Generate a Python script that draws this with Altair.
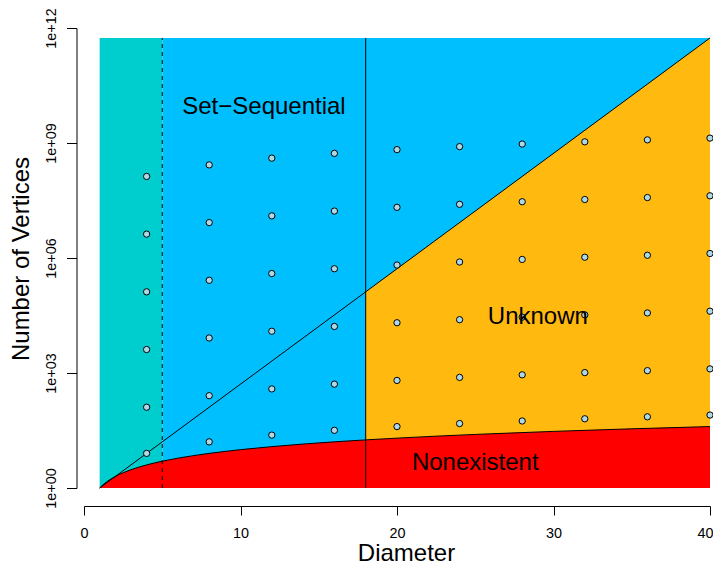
import altair as alt
import pandas as pd

# ---------------- data ----------------
x_ticks = [0, 10, 20, 30, 40]
y_ticks = [1, 1e3, 1e6, 1e9, 1e12]
y_tick_labels = ["1e+00", "1e+03", "1e+06", "1e+09", "1e+12"]

top_n = 549755813888  # upper edge of the coloured regions

# coloured regions: diameter ranges
teal_d = [1, 5]
blue_d = [5, 40]
orange_d = [18, 40]
orange_n = [131072, 549755813888]       # diagonal boundary over the orange part

# diagonal boundary line
diag_d = [1, 40]
diag_n = [1, 549755813888]

# lower (nonexistent) boundary curve
curve_d = [1, 1.25, 1.5, 2, 2.5, 3, 4, 5, 6, 8, 10, 12, 14, 16, 18, 20, 25, 30, 35, 40]
curve_n = [1, 1.25, 1.5, 2, 2.5, 3, 4, 5, 6, 8, 10, 12, 14, 16, 18, 20, 25, 30, 35, 40]

dashed_d = [5]
solid_d = [18]

# sample points
pt_d = [4, 8, 12, 16, 20, 24, 28, 32, 36, 40]
row1 = [8, 16, 24, 32, 40, 48, 56, 64, 72, 80]
row2 = [128, 256, 384, 512, 640, 768, 896, 1024, 1152, 1280]
row3 = [4096, 8192, 12288, 16384, 20480, 24576, 28672, 32768, 36864, 40960]
row4 = [131072, 262144, 393216, 524288, 655360, 786432, 917504, 1048576, 1179648, 1310720]
row5 = [4194304, 8388608, 12582912, 16777216, 20971520, 25165824, 29360128, 33554432, 37748736, 41943040]
row6 = [134217728, 268435456, 402653184, 536870912, 671088640, 805306368, 939524096,
        1073741824, 1207959552, 1342177280]

region_text = ["Set\u2212Sequential", "Unknown", "Nonexistent"]
region_text_d = [11.5, 29, 25]
region_text_n = [1e10, 3.2e4, 5]

# ---------------- styling ----------------
FONT = "Liberation Sans"
TEAL = "#00CDCD"
BLUE = "#00BFFF"
ORANGE = "#FFB90F"
RED = "#FF0000"
PT_FILL = "#ADD8E6"

label_expr = ""
for v, lab in zip(y_ticks, y_tick_labels):
    label_expr += f"abs(datum.value - {v}) < {v}*0.01 ? '{lab}' : "
label_expr += "''"

x_axis = alt.Axis(
    values=x_ticks, title="Diameter", grid=False, offset=18,
    domainColor="black", domainWidth=1, tickColor="black", tickWidth=1, tickSize=9,
    labelFont=FONT, labelFontSize=14.4, labelColor="black", labelFlush=False,
    labelOverlap=False, labelBaseline="alphabetic", labelPadding=22,
    labelOffset={"condition": {"test": f"datum.value >= {x_ticks[-1]}", "value": -5}, "value": 0},
    titleFont=FONT, titleFontSize=24, titleFontWeight="normal", titleColor="black",
    titleX=322, titleY=54, titleBaseline="alphabetic", titleAlign="center", titleAngle=0,
)
y_axis = alt.Axis(
    values=y_ticks, labelExpr=label_expr, title="Number of Vertices", grid=False, offset=7.5,
    domainColor="black", domainWidth=1, tickColor="black", tickWidth=1, tickSize=10,
    labelFont=FONT, labelFontSize=14.4, labelColor="black", labelAngle=270,
    labelAlign="center", labelBaseline="alphabetic", labelPadding=11.5, labelOverlap=False,
    titleFont=FONT, titleFontSize=24, titleFontWeight="normal", titleColor="black",
    titleAngle=270, titleBaseline="alphabetic", titleAlign="center",
    titleX=-48.5, titleY=230.5,
)

x_scale = alt.Scale(domain=[0, 40], nice=False, zero=False)
y_scale = alt.Scale(type="log", domain=[1, 1e12], nice=False)


def X(field="x"):
    return alt.X(f"{field}:Q", scale=x_scale, axis=x_axis)


def Y(field="y"):
    return alt.Y(f"{field}:Q", scale=y_scale, axis=y_axis)


# ---------------- layers ----------------
blue_df = pd.DataFrame({"x": [blue_d[0]], "x2": [blue_d[1]], "y": [1], "y2": [top_n]})
blue = alt.Chart(blue_df).mark_rect(color=BLUE).encode(x=X(), x2="x2:Q", y=Y(), y2="y2:Q")

orange_df = pd.DataFrame({"x": orange_d, "y": orange_n, "y2": [1, 1]})
orange = alt.Chart(orange_df).mark_area(color=ORANGE, opacity=1).encode(x=X(), y=Y(), y2="y2:Q")

teal_df = pd.DataFrame({"x": [teal_d[0]], "x2": [teal_d[1]], "y": [1], "y2": [top_n]})
teal = alt.Chart(teal_df).mark_rect(color=TEAL).encode(x=X(), x2="x2:Q", y=Y(), y2="y2:Q")

curve_df = pd.DataFrame({"x": curve_d, "y": curve_n, "y2": [1] * len(curve_d)})
red = alt.Chart(curve_df).mark_area(color=RED, opacity=1, interpolate="monotone").encode(
    x=X(), y=Y(), y2="y2:Q")
curve_line = alt.Chart(curve_df).mark_line(color="black", strokeWidth=1, interpolate="monotone").encode(
    x=X(), y=Y())

diag_df = pd.DataFrame({"x": diag_d, "y": diag_n})
diag = alt.Chart(diag_df).mark_line(color="black", strokeWidth=1).encode(x=X(), y=Y())

dash_df = pd.DataFrame({"x": dashed_d, "y": [1], "y2": [top_n]})
dash = alt.Chart(dash_df).mark_rule(color="black", strokeWidth=1, strokeDash=[4, 4]).encode(
    x=X(), y=Y(), y2="y2:Q")
solid_df = pd.DataFrame({"x": solid_d, "y": [1], "y2": [top_n]})
solid = alt.Chart(solid_df).mark_rule(color="black", strokeWidth=1).encode(
    x=X(), y=Y(), y2="y2:Q")

pts_rows = [row1, row2, row3, row4, row5, row6]
pts_df = pd.DataFrame({
    "x": [d for r in pts_rows for d in pt_d],
    "y": [v for r in pts_rows for v in r],
})
pts = alt.Chart(pts_df).mark_point(
    shape="circle", filled=True, fill=PT_FILL, stroke="black", strokeWidth=1, size=40, opacity=1
).encode(x=X(), y=Y())

text_df = pd.DataFrame({"x": region_text_d, "y": region_text_n, "t": region_text})
texts = alt.Chart(text_df).mark_text(
    font=FONT, fontSize=24, color="black", align="center", baseline="middle", dy=2
).encode(x=X(), y=Y(), text="t:N")

chart = alt.layer(blue, orange, teal, red, curve_line, diag, dash, solid, pts, texts).properties(
    width=626, height=460,
    autosize=alt.AutoSizeParams(type="none"),
    padding={"left": 76, "top": 20, "right": 3, "bottom": 73},
    background="white",
).configure_view(stroke=None)

chart.save("out.html", embed_options={"renderer": "svg", "actions": False})
